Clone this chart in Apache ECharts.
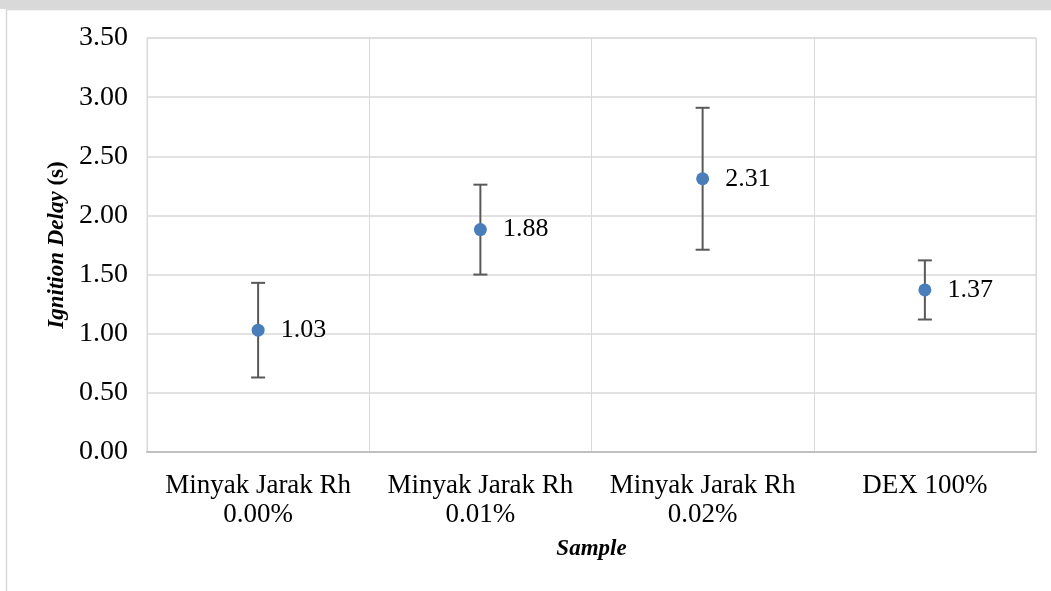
<!DOCTYPE html>
<html>
<head>
<meta charset="utf-8">
<script src="https://cdn.jsdelivr.net/npm/echarts@6/dist/echarts.min.js"></script>
<style>
  html, body { margin: 0; padding: 0; background: #ffffff; }
  #chart { width: 1051px; height: 591px; }
</style>
</head>
<body>
<div id="chart"></div>
<script>
// Sample categories (two-line labels)
var categories = ['Minyak Jarak Rh\n0.00%', 'Minyak Jarak Rh\n0.01%', 'Minyak Jarak Rh\n0.02%', 'DEX 100%'];
// Mean ignition delay per sample (s)
var delayMeans = [1.03, 1.88, 2.31, 1.37];
// Error bar half-width per sample (s)
var delayErrors = [0.40, 0.38, 0.60, 0.25];
// Y axis tick range
var yMin = 0, yMax = 3.5, yStep = 0.5;

var serif = '"Liberation Serif", "Times New Roman", serif';

var errorData = categories.map(function (c, i) {
  return [i, delayMeans[i] - delayErrors[i], delayMeans[i] + delayErrors[i]];
});

var chart = echarts.init(document.getElementById('chart'), null, { renderer: 'canvas' });
chart.setOption({
  animation: false,
  backgroundColor: '#ffffff',
  graphic: [
    { type: 'rect', shape: { x: 0, y: 0, width: 1051, height: 9 }, style: { fill: '#D9D9D9' }, z: -10 },
    { type: 'rect', shape: { x: 6.5, y: 9.5, width: 1060, height: 600 }, style: { fill: '#ffffff', stroke: '#D9D9D9', lineWidth: 1.5 }, z: -9 }
  ],
  grid: { left: 147, right: 15, top: 38, bottom: 139, show: true, borderColor: '#D9D9D9', borderWidth: 1 },
  xAxis: {
    type: 'category',
    data: categories,
    boundaryGap: true,
    name: 'Sample',
    nameLocation: 'middle',
    nameGap: 86,
    nameTextStyle: { fontFamily: serif, fontSize: 23, fontWeight: 'bold', fontStyle: 'italic', color: '#000' },
    axisLine: { show: true, lineStyle: { color: '#BFBFBF', width: 2 } },
    axisTick: { show: false },
    axisLabel: { interval: 0, fontFamily: serif, fontSize: 27, color: '#000', margin: 19, lineHeight: 29 },
    splitLine: { show: true, interval: 0, lineStyle: { color: '#D9D9D9', width: 1 } }
  },
  yAxis: {
    type: 'value',
    min: yMin, max: yMax, interval: yStep,
    name: '{i|Ignition Delay} {n|(s)}',
    nameLocation: 'middle',
    nameGap: 76,
    nameRotate: 90,
    nameTextStyle: {
      fontFamily: serif, fontSize: 23, fontWeight: 'bold', color: '#000',
      rich: {
        i: { fontFamily: serif, fontSize: 23, fontWeight: 'bold', fontStyle: 'italic', color: '#000' },
        n: { fontFamily: serif, fontSize: 23, fontWeight: 'bold', color: '#000' }
      }
    },
    axisLine: { show: false },
    axisTick: { show: false },
    axisLabel: {
      fontFamily: serif, fontSize: 28, color: '#000', margin: 19,
      formatter: function (v) { return v.toFixed(2); }
    },
    splitLine: { show: true, lineStyle: { color: '#D9D9D9', width: 1.5 } }
  },
  series: [
    {
      type: 'custom',
      name: 'error',
      data: errorData,
      z: 2,
      renderItem: function (params, api) {
        var x = api.value(0);
        var lo = api.coord([x, api.value(1)]);
        var hi = api.coord([x, api.value(2)]);
        var half = 7;
        var style = { stroke: '#595959', lineWidth: 2 };
        return {
          type: 'group',
          children: [
            { type: 'line', shape: { x1: hi[0], y1: hi[1], x2: lo[0], y2: lo[1] }, style: style },
            { type: 'line', shape: { x1: hi[0] - half, y1: hi[1], x2: hi[0] + half, y2: hi[1] }, style: style },
            { type: 'line', shape: { x1: lo[0] - half, y1: lo[1], x2: lo[0] + half, y2: lo[1] }, style: style }
          ]
        };
      }
    },
    {
      type: 'scatter',
      name: 'Ignition Delay',
      data: delayMeans,
      z: 3,
      symbol: 'circle',
      symbolSize: 13,
      itemStyle: { color: '#4A7EBB', opacity: 1 },
      label: {
        show: true,
        position: 'right',
        distance: 16,
        fontFamily: serif,
        fontSize: 26,
        color: '#000',
        formatter: function (p) { return p.value.toFixed(2); }
      }
    }
  ]
});
</script>
</body>
</html>
